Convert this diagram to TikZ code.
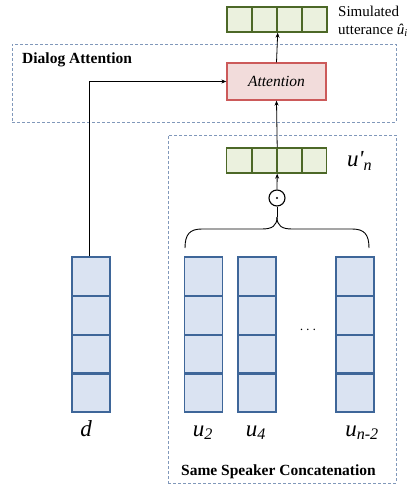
\documentclass[tikz,border=0pt]{standalone}
\usepackage{fontspec}
\setmainfont{Liberation Serif}
\usetikzlibrary{arrows.meta,calc}
\definecolor{bfill}{HTML}{DAE3F2}
\definecolor{bdraw}{HTML}{3E6699}
\definecolor{gfill}{HTML}{EBF1DE}
\definecolor{gdraw}{HTML}{4C6827}
\definecolor{pfill}{HTML}{F2DCDB}
\definecolor{pdraw}{HTML}{CC5A5A}
\definecolor{dashc}{HTML}{8198BA}
\tikzset{
  bcell/.style={draw=bdraw,fill=bfill,line width=1.5pt,minimum width=38pt,minimum height=38.75pt,inner sep=0pt},
  gcell/.style={draw=gdraw,fill=gfill,line width=1.4pt,minimum width=25pt,minimum height=25pt,inner sep=0pt},
  bline/.style={draw=bdraw,line width=1.5pt},
  gline/.style={draw=gdraw,line width=1.4pt},
  groupbox/.style={draw=dashc,line width=0.9pt,dash pattern=on 3pt off 2pt},
  arr/.style={-{Stealth[length=5pt,width=4pt]},line width=0.8pt},
  lbl/.style={font=\fontsize{23}{26}\selectfont\itshape,anchor=base,inner sep=0pt},
  title/.style={font=\fontsize{15.5}{18}\selectfont\bfseries,inner sep=0pt}
}
\begin{document}
\begin{tikzpicture}[x=1pt,y=-1pt]
\useasboundingbox (0,0) rectangle (410,489);
% group boxes
\node[groupbox,minimum width=384pt,minimum height=78pt,inner sep=0pt] (dabox) at (204,83) {};
\node[groupbox,minimum width=228pt,minimum height=348pt,inner sep=0pt] (ssbox) at (282,309) {};
\node[title,anchor=base west] (datitle) at (22,64) {Dialog Attention};
\node[title,anchor=base] (sstitle) at (278.5,475) {Same Speaker Concatenation};
% top output vector
\foreach \i/\x in {1/239.5,2/264.5,3/289.5,4/314.5}{
  \node[gcell] (t\i) at (\x,19.5) {};
}
\foreach \i in {1,2,3}{\draw[gline] (t\i.north east) -- (t\i.south east);}
\node[anchor=base west,inner sep=0pt,font=\fontsize{15}{17}\selectfont] (simlbl) at (338,17) {Simulated};
\node[anchor=base west,inner sep=0pt,font=\fontsize{15}{17}\selectfont] (uttlbl) at (338,34.5) {utterance \textit{û}\textsubscript{\textit{i}}};
% attention
\node[draw=pdraw,fill=pfill,line width=1.3pt,minimum width=99pt,minimum height=37pt,inner sep=0pt,font=\fontsize{15.5}{18}\selectfont\itshape] (att) at (276.5,81.5) {Attention};
% u'_n vector
\foreach \i/\x in {1/239,2/264,3/289,4/314}{
  \node[gcell] (v\i) at (\x,160.5) {};
}
\foreach \i in {1,2,3}{\draw[gline] (v\i.north east) -- (v\i.south east);}
\node[lbl,anchor=base west] (unlbl) at (347,167) {u\textquotesingle\textsubscript{n}};
% odot
\node[draw,circle,line width=1.1pt,minimum size=16pt,inner sep=0pt] (odot) at (277,198) {};
\fill (odot.center) circle (1.2pt);
% brace
\coordinate (tip) at (277,217);
\draw[line width=0.9pt] (185,248) .. controls (185,234) and (190,229) .. (202,229) -- (262,229) .. controls (272,229) and (277,226) .. (tip);
\draw[line width=0.9pt] (369,248) .. controls (369,234) and (364,229) .. (352,229) -- (292,229) .. controls (282,229) and (277,226) .. (tip);
\draw[line width=0.9pt] (tip) -- (odot.south);
% vertical vectors
\foreach \n/\x in {d/91,a/203.5,b/257,c/355}{
  \foreach \j/\y in {1/276.4,2/315.1,3/353.9,4/392.6}{
    \node[bcell] (\n\j) at (\x,\y) {};
  }
  \foreach \j in {1,2,3}{\draw[bline] (\n\j.south west) -- (\n\j.south east);}
}
\node[inner sep=0pt,font=\fontsize{15}{18}\selectfont] (dots) at (308,330) {$\cdots$};
\node[lbl] (dlbl) at (86,436) {d};
\node[lbl] (albl) at (203,436) {u\textsubscript{2}};
\node[lbl] (blbl) at (256,436) {u\textsubscript{4}};
\node[lbl] (clbl) at (362,436) {u\textsubscript{n-2}};
% connectors
\draw[arr] (odot.north) -- (v2.south east);
\draw[arr] (v2.north east) -- (att.south);
\draw[arr] (att.north) -- (t2.south east);
\draw[arr] ($(d1.north)+(-2,0)$) |- (att.west);
\end{tikzpicture}
\end{document}
